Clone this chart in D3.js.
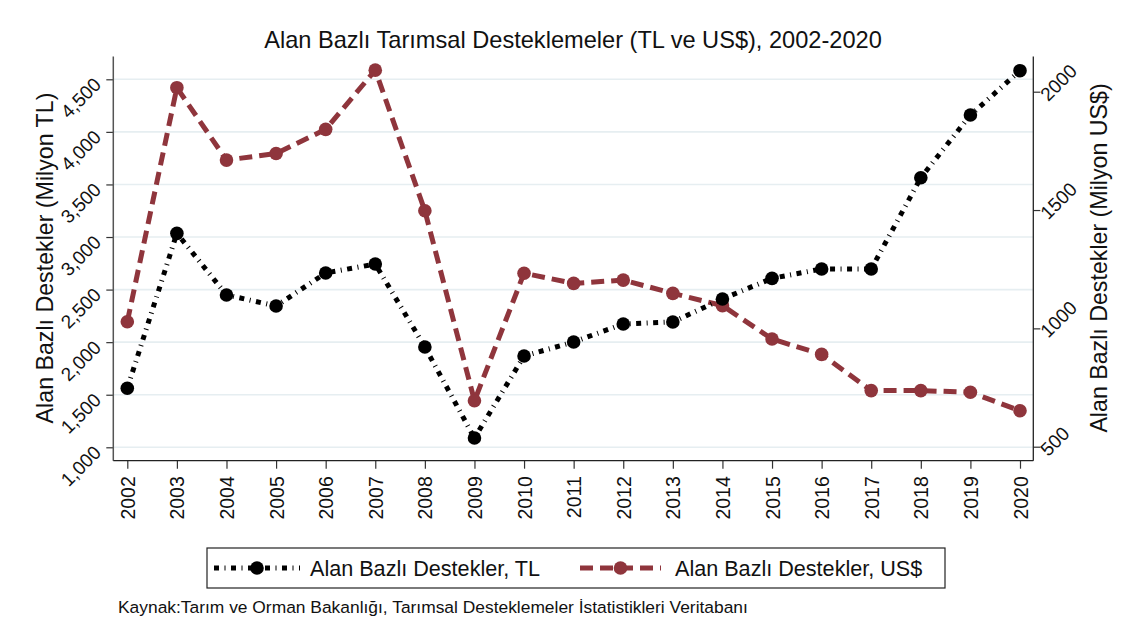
<!DOCTYPE html>
<html><head><meta charset="utf-8">
<script src="https://cdn.jsdelivr.net/npm/d3@7"></script>
<style>body{margin:0;background:#fff}svg{display:block;font-family:"Liberation Sans",Arial,sans-serif}</style>
</head><body><svg id="c" width="1134" height="625"></svg>
<script>
const years = [2002,2003,2004,2005,2006,2007,2008,2009,2010,2011,2012,2013,2014,2015,2016,2017,2018,2019,2020];
const tlValues = [1561,3035,2449,2344,2658,2743,1954,1088,1868,2002,2173,2192,2411,2607,2696,2696,3564,4160,4582];
const usdValues = [1028,2017,1711,1739,1841,2091,1497,694,1233,1190,1204,1148,1096,955,890,737,737,730,652];
const leftTicks = [1000,1500,2000,2500,3000,3500,4000,4500];
const rightTicks = [500,1000,1500,2000];
const titleText = "Alan Bazlı Tarımsal Desteklemeler (TL ve US$), 2002-2020";
const leftTitle = "Alan Bazlı Destekler (Milyon TL)";
const rightTitle = "Alan Bazlı Destekler (Milyon US$)";
const legendLabels = ["Alan Bazlı Destekler, TL","Alan Bazlı Destekler, US$"];
const sourceText = "Kaynak:Tarım ve Orman Bakanlığı, Tarımsal Desteklemeler İstatistikleri Veritabanı";

const RED = "#8f353c";
const svg = d3.select("#c");
const plot = {left:113.3, right:1033.3, top:56.5, bottom:460.7};

const x = d3.scaleLinear().domain([2002,2020]).range([127.3,1020]);
const yL = d3.scaleLinear().domain([1000,4500]).range([447.3,79.3]);
const yR = d3.scaleLinear().domain([500,2000]).range([446.7,91.7]);

// gridlines
svg.append("g").selectAll("line").data(leftTicks).join("line")
  .attr("x1",plot.left).attr("x2",plot.right)
  .attr("y1",d=>yL(d)).attr("y2",d=>yL(d))
  .attr("stroke","#e6eef1").attr("stroke-width",1.6);

// axes
const axisColor = "#333";
const gL = svg.append("g").attr("transform",`translate(${plot.left},0)`)
  .call(d3.axisLeft(yL).tickValues(leftTicks).tickSize(7).tickFormat(d3.format(",")));
gL.select(".domain").remove();
gL.selectAll(".tick line").attr("stroke",axisColor).attr("stroke-width",1.2);
gL.selectAll(".tick text").attr("x",null).attr("dy",null)
  .attr("font-size",19).attr("fill","#111")
  .attr("text-anchor","end")
  .attr("transform","translate(-11,6) rotate(-45)");

const gR = svg.append("g").attr("transform",`translate(${plot.right},0)`)
  .call(d3.axisRight(yR).tickValues(rightTicks).tickSize(7).tickFormat(d3.format("d")));
gR.select(".domain").remove();
gR.selectAll(".tick line").attr("stroke",axisColor).attr("stroke-width",1.2);
gR.selectAll(".tick text").attr("x",null).attr("dy",null)
  .attr("font-size",19).attr("fill","#111")
  .attr("text-anchor","start")
  .attr("transform","translate(15,10) rotate(-45)");

const gX = svg.append("g").attr("transform",`translate(0,${plot.bottom})`)
  .call(d3.axisBottom(x).tickValues(years).tickSize(8).tickFormat(d3.format("d")));
gX.select(".domain").remove();
gX.selectAll(".tick line").attr("stroke",axisColor).attr("stroke-width",1.2);
gX.selectAll(".tick text").attr("y",null).attr("dy",null)
  .attr("font-size",19.5).attr("fill","#111")
  .attr("text-anchor","end")
  .attr("transform","translate(7,15.5) rotate(-90)");

// frame lines
svg.append("line").attr("x1",plot.left).attr("x2",plot.left).attr("y1",plot.top).attr("y2",plot.bottom).attr("stroke","#555").attr("stroke-width",1.5);
svg.append("line").attr("x1",plot.right).attr("x2",plot.right).attr("y1",plot.top).attr("y2",plot.bottom).attr("stroke","#222").attr("stroke-width",1.3);
svg.append("line").attr("x1",plot.left).attr("x2",plot.right).attr("y1",plot.bottom).attr("y2",plot.bottom).attr("stroke","#222").attr("stroke-width",1.3);

// lines
const tlData = years.map((yr,i)=>({yr,v:tlValues[i]}));
const usData = years.map((yr,i)=>({yr,v:usdValues[i]}));
const lineL = d3.line().x(d=>x(d.yr)).y(d=>yL(d.v));
const lineR = d3.line().x(d=>x(d.yr)).y(d=>yR(d.v));

svg.append("path").datum(usData).attr("d",lineR).attr("fill","none")
  .attr("stroke",RED).attr("stroke-width",5).attr("stroke-dasharray","13,7");
svg.append("g").selectAll("circle").data(usData).join("circle")
  .attr("cx",d=>x(d.yr)).attr("cy",d=>yR(d.v)).attr("r",6.8).attr("fill",RED);

svg.append("path").datum(tlData).attr("d",lineL).attr("fill","none")
  .attr("stroke","#000").attr("stroke-width",5).attr("stroke-dasharray","5,5.5,1,5.5");
svg.append("g").selectAll("circle").data(tlData).join("circle")
  .attr("cx",d=>x(d.yr)).attr("cy",d=>yL(d.v)).attr("r",6.8).attr("fill","#000");

// title
svg.append("text").attr("x",573).attr("y",48).attr("text-anchor","middle")
  .attr("font-size",23.6).attr("fill","#111").text(titleText);

// axis titles
svg.append("text").attr("transform","translate(53,258) rotate(-90)").attr("text-anchor","middle")
  .attr("font-size",23.2).attr("fill","#111").text(leftTitle);
svg.append("text").attr("transform","translate(1107,258) rotate(-90)").attr("text-anchor","middle")
  .attr("font-size",23.2).attr("fill","#111").text(rightTitle);

// legend
const lg = svg.append("g");
lg.append("rect").attr("x",207).attr("y",548).attr("width",738).attr("height",40)
  .attr("fill","#fff").attr("stroke","#222").attr("stroke-width",1.2);
const legendItems = [
  {label:legendLabels[0], color:"#000", dash:"5,5.5,1,5.5", x0:214, x1:300, tx:310},
  {label:legendLabels[1], color:RED, dash:"13,7", x0:580, x1:661, tx:675}
];
legendItems.forEach(it=>{
  lg.append("line").attr("x1",it.x0).attr("x2",it.x1).attr("y1",568).attr("y2",568)
    .attr("stroke",it.color).attr("stroke-width",5).attr("stroke-dasharray",it.dash);
  lg.append("circle").attr("cx",(it.x0+it.x1)/2).attr("cy",568).attr("r",6.8).attr("fill",it.color);
  lg.append("text").attr("x",it.tx).attr("y",576).attr("font-size",21.6).attr("fill","#111").text(it.label);
});

// source
svg.append("text").attr("x",118).attr("y",613).attr("font-size",17.4).attr("fill","#111").text(sourceText);
</script></body></html>
